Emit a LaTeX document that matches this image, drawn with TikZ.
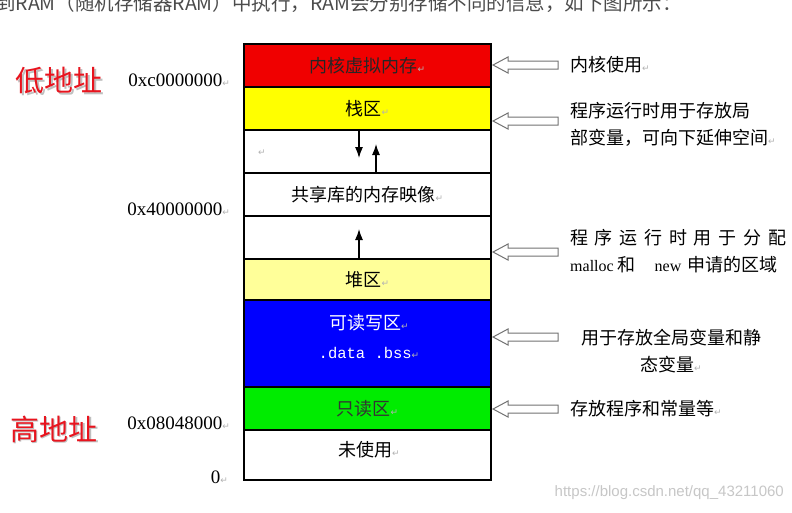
\documentclass[tikz,border=0pt]{standalone}
\usepackage{fontspec}
\setmainfont{Noto Sans CJK SC}
\newfontfamily\timesfont{Liberation Serif}
\newfontfamily\monofont{Liberation Mono}
\newfontfamily\arialfont{Liberation Sans}
\newfontfamily\symfont{DejaVu Sans}
\usepackage{xcolor}
\usetikzlibrary{arrows.meta}

\definecolor{kernelred}{RGB}{240,0,0}
\definecolor{stackyellow}{RGB}{255,255,0}
\definecolor{heapyellow}{RGB}{255,255,153}
\definecolor{rwblue}{RGB}{0,0,255}
\definecolor{rogreen}{RGB}{0,236,0}
\definecolor{labelred}{RGB}{232,20,30}

% Word paragraph mark
\newcommand{\pmark}{{\symfont\fontsize{9}{9}\selectfont\color{black!30}↵}}

\begin{document}
\begin{tikzpicture}[x=1pt, y=-1pt,
    cell/.style={draw=black, line width=1.2pt, minimum width=247pt, inner sep=0pt, font=\fontsize{18}{22}\selectfont},
    side/.style={anchor=west, inner sep=0pt, font=\fontsize{18}{27}\selectfont},
    addr/.style={anchor=base east, inner sep=0pt, font=\timesfont\fontsize{19}{19}\selectfont},
    hollow/.style={draw=black!55, fill=white, line width=1pt, line join=miter},
    growarrow/.style={-{Latex[length=11pt,width=8pt]}, line width=1.2pt}]
    \fill[white] (0,0) rectangle (792,512);
    \useasboundingbox (0,0) rectangle (792,512);

    % Cut-off line of the page above
    \begin{scope}
        \clip (0,0) rectangle (792,512);
        \node[anchor=base west, inner sep=0pt, text=black!70, font=\fontsize{19.5}{19.5}\selectfont] (intro) at (-4,10) {到RAM（随机存储器RAM）中执行，RAM会分别存储不同的信息，如下图所示：};
    \end{scope}

    % Memory stack (left column)
    \node[cell, fill=kernelred, text=black!85, minimum height=43pt] (kernel) at (367.5,65.5) {内核虚拟内存\pmark};
    \node[cell, fill=stackyellow, minimum height=43pt] (stack) at (367.5,108.5) {栈区\pmark};
    \node[cell, fill=white, minimum height=43pt] (gapa) at (367.5,151.5) {};
    \node[cell, fill=white, minimum height=43pt] (shlib) at (367.5,194.5) {共享库的内存映像\pmark};
    \node[cell, fill=white, minimum height=43pt] (gapb) at (367.5,237.5) {};
    \node[cell, fill=heapyellow, minimum height=41pt] (heap) at (367.5,279.5) {堆区\pmark};
    \node[cell, fill=rwblue, minimum height=87pt] (rw) at (367.5,343.5) {};
    \node[cell, fill=rogreen, text=black!80, minimum height=43pt] (ro) at (367.5,408.5) {只读区\pmark};
    \node[cell, fill=white, minimum height=50pt] (unused) at (367.5,455) {};

    % Texts set apart inside cells
    \node[inner sep=0pt, text=white, font=\fontsize{18}{18}\selectfont] (rwname) at (369,323) {可读写区\pmark};
    \node[inner sep=0pt, text=white, font=\monofont\fontsize{15.5}{15.5}\selectfont] (rwsect) at (369,353) {.data .bss\pmark};
    \node[inner sep=0pt, font=\fontsize{18}{18}\selectfont] (unusedname) at (369,450) {未使用\pmark};
    \node[inner sep=0pt] (gapmark) at (262,153) {\pmark};

    % Growth arrows
    \coordinate (stacktip) at (359,158);
    \coordinate (libtip) at (376,144);
    \coordinate (heaptip) at (359,229);
    \draw[growarrow] (stacktip |- stack.south) -- (stacktip);
    \draw[growarrow] (libtip |- shlib.north) -- (libtip);
    \draw[growarrow] (heaptip |- heap.north) -- (heaptip);

    % Addresses
    \node[addr] (addrkernel) at (230,86.5) {0xc0000000\pmark};
    \node[addr] (addrlib) at (230,215.5) {0x40000000\pmark};
    \node[addr] (addrtext) at (230,429.5) {0x08048000\pmark};
    \node[addr] (addrzero) at (228,483.5) {0\pmark};

    % Red side labels with shadow
    \node[text=black!25, font=\fontsize{29}{29}\selectfont] (lowshadow) at (60.5,82.5) {低地址};
    \node[text=labelred, font=\fontsize{29}{29}\selectfont] (low) at (59,81) {低地址};
    \node[text=black!25, font=\fontsize{29}{29}\selectfont] (highshadow) at (55.5,430.5) {高地址};
    \node[text=labelred, font=\fontsize{29}{29}\selectfont] (high) at (54,429) {高地址};

    % Hollow pointer arrows
    \foreach \y in {65,121,252,337,409}
        \draw[hollow] (493,\y) -- ++(15,-8) -- ++(0,4) -- ++(50,0) -- ++(0,8) -- ++(-50,0) -- ++(0,4) -- cycle;

    % Descriptions (right column)
    \node[side] (kerneluse) at (570,65) {内核使用\pmark};
    \node[side, align=left] (stackuse) at (570,124) {程序运行时用于存放局\\部变量，可向下延伸空间\pmark};
    \node[side, align=left] (heapuse) at (570,251.5) {\makebox[216pt][s]{程 序 运 行 时 用 于 分 配}\\{\timesfont\fontsize{16}{16}\selectfont malloc}\hspace{4pt}和\hspace{19pt}{\timesfont\fontsize{16}{16}\selectfont new}\hspace{6pt}申请的区域};
    \node[side, anchor=center, align=center] (rwuse) at (671,351.5) {用于存放全局变量和静\\态变量\pmark};
    \node[side] (rouse) at (570,409) {存放程序和常量等\pmark};

    % Watermark
    \node[anchor=east, inner sep=0pt, text=black!22, font=\arialfont\fontsize{15}{15}\selectfont] (watermark) at (784,493) {https://blog.csdn.net/qq\_43211060};
\end{tikzpicture}
\end{document}
